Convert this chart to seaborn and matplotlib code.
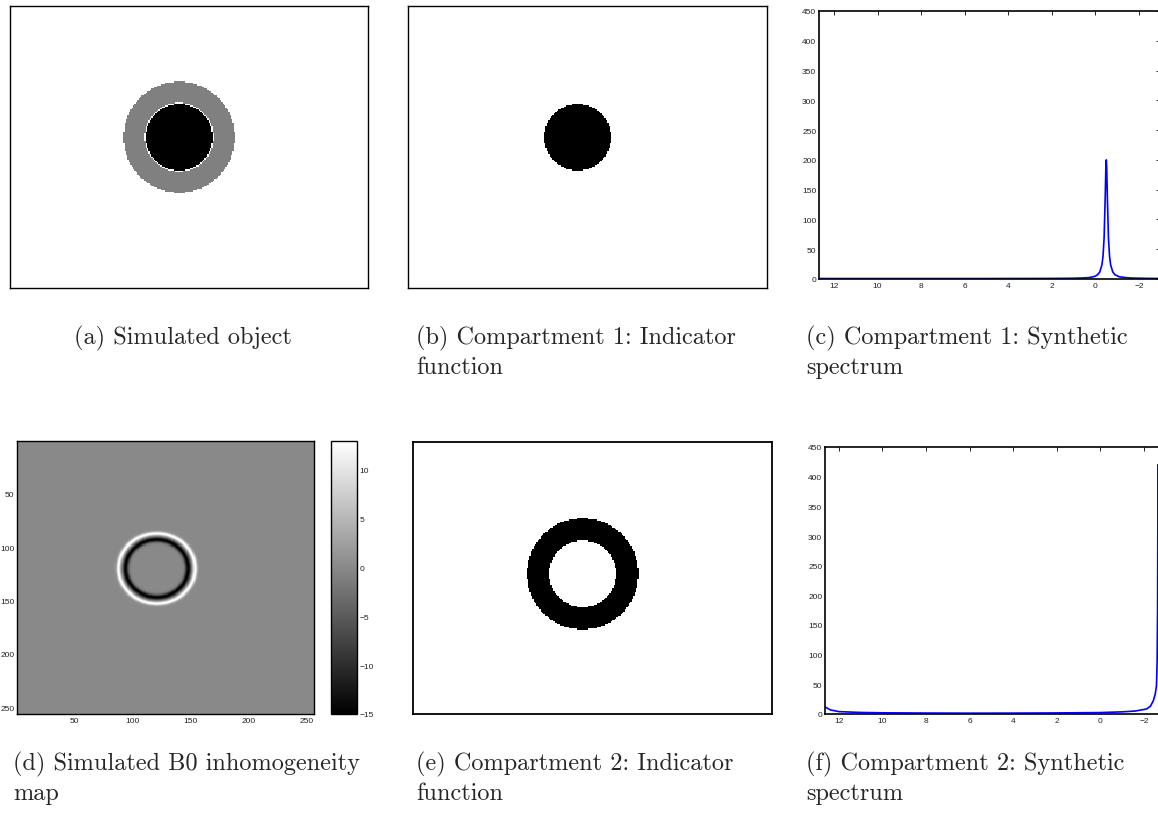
import numpy as np
import matplotlib
matplotlib.use("Agg")
import matplotlib.pyplot as plt
import seaborn as sns

# simulated phantom (grid units, 256 columns)
OBJ_CENTER = (121.0, 94.0)
OBJ_RADII = [23.8, 39.7]          # inner disk, outer ring
OBJ_LEVELS = [0.0, 0.5, 1.0]      # inner disk, ring, background

# B0 inhomogeneity map (256 x 256, 1-indexed pixel coords)
B0_CENTER = (121.0, 120.0)
B0_RING_RADII = [27.0, 33.0]
B0_RING_WIDTHS = [2.4, 1.9]
B0_RING_PEAKS = [-15.0, 12.9]
B0_CLIM = [-15.0, 12.9]
B0_TICKS = [50, 100, 150, 200, 250]
CB_TICKS = [-15, -10, -5, 0, 5, 10]

# synthetic spectra (ppm, amplitude)
C_PPM = [12.69, 11.0, 9.0, 7.0, 5.0, 3.0, 2.0, 1.5, 1.0, 0.6, 0.3, 0.1, 0.0, -0.1, -0.2,
         -0.3, -0.35, -0.4, -0.45, -0.48, -0.5, -0.52, -0.55, -0.6, -0.65, -0.7, -0.8,
         -0.9, -1.1, -1.4, -1.6, -2.0, -2.5, -2.94]
C_AMP = [0.8, 0.8, 0.8, 0.8, 0.8, 0.9, 1.0, 1.1, 1.3, 1.7, 2.4, 3.7, 4.9, 7.1, 11.7,
         23.8, 38.0, 69.0, 136.0, 186.0, 200.0, 186.0, 136.0, 69.0, 38.0, 23.8, 11.7,
         7.1, 3.7, 2.4, 1.7, 1.3, 1.0, 0.9]
F_PPM = [12.64, 12.4, 12.0, 11.0, 10.0, 8.0, 6.0, 4.0, 2.0, 0.0, -1.0, -1.6, -2.12,
         -2.3, -2.43, -2.52, -2.58, -2.61, -2.63, -2.65, -2.7, -2.8, -3.0]
F_AMP = [12.0, 7.0, 4.0, 2.6, 2.0, 1.6, 1.4, 1.5, 1.8, 2.4, 3.6, 5.0, 8.4,
         13.0, 22.0, 33.0, 48.0, 90.0, 180.0, 420.0, 120.0, 40.0, 15.0]
SPEC_TICKS = [12, 10, 8, 6, 4, 2, 0, -2]
SPEC_YTICKS = list(range(0, 451, 50))

CAPTIONS = [
    "(a) Simulated object",
    "(b) Compartment 1: Indicator\nfunction",
    "(c) Compartment 1: Synthetic\nspectrum",
    "(d) Simulated B0 inhomogeneity\nmap",
    "(e) Compartment 2: Indicator\nfunction",
    "(f) Compartment 2: Synthetic\nspectrum",
]

sns.set_style("white")
plt.rcParams['font.family'] = ['Liberation Sans', 'DejaVu Sans']

W, H = 1158, 820
fig = plt.figure(figsize=(W / 100, H / 100), dpi=100)


def box(l, t, r, b):
    return fig.add_axes([l / W, 1 - b / H, (r - l) / W, (b - t) / H])


def radius_grid(nx, ny, center):
    yy, xx = np.mgrid[0:ny, 0:nx] + 0.5
    return np.hypot(xx - center[0], yy - center[1])


def frame(ax, lw=1.0):
    for s in ax.spines.values():
        s.set_visible(True)
        s.set_color('black')
        s.set_linewidth(lw)


def matlab_ticks(ax):
    ax.tick_params(direction='in', length=3, width=0.6, top=True, right=True,
                   labelsize=6, pad=2, colors='black', labelcolor='#222222')


# (a) simulated object
ax_a = box(10, 7, 368, 289)
r = radius_grid(256, 202, OBJ_CENTER)
obj = np.full(r.shape, OBJ_LEVELS[2])
obj[r < OBJ_RADII[1]] = OBJ_LEVELS[1]
obj[r < OBJ_RADII[0] + 0.9] = 1.0
obj[r < OBJ_RADII[0]] = OBJ_LEVELS[0]
sns.heatmap(obj, ax=ax_a, cmap='gray', vmin=0, vmax=1, cbar=False,
            xticklabels=False, yticklabels=False)
frame(ax_a)

# (b) compartment 1 indicator
ax_b = box(408, 7, 767, 289)
r = radius_grid(256, 202, OBJ_CENTER)
ind1 = np.where(r < OBJ_RADII[0], 0.0, 1.0)
sns.heatmap(ind1, ax=ax_b, cmap='gray', vmin=0, vmax=1, cbar=False,
            xticklabels=False, yticklabels=False)
frame(ax_b)

# (e) compartment 2 indicator
ax_e = box(413, 443, 772, 715)
r = radius_grid(256, 194, OBJ_CENTER)
ind2 = np.where((r >= OBJ_RADII[0]) & (r < OBJ_RADII[1]), 0.0, 1.0)
sns.heatmap(ind2, ax=ax_e, cmap='gray', vmin=0, vmax=1, cbar=False,
            xticklabels=False, yticklabels=False)
frame(ax_e, 1.3)

# (d) B0 map with colorbar
ax_d = box(17, 442, 314, 715)
ax_cb = box(331, 442, 357, 715)
yy, xx = np.mgrid[1:257, 1:257]
rb = np.hypot(xx - B0_CENTER[0], yy - B0_CENTER[1])
b0 = np.zeros(rb.shape)
for rr, ww, pk in zip(B0_RING_RADII, B0_RING_WIDTHS, B0_RING_PEAKS):
    b0 += pk * np.exp(-((rb - rr) / ww) ** 2)
sns.heatmap(b0, ax=ax_d, cmap='gray', vmin=B0_CLIM[0], vmax=B0_CLIM[1],
            cbar_ax=ax_cb, xticklabels=False, yticklabels=False)
ax_d.set_xticks(np.array(B0_TICKS) - 0.5)
ax_d.set_xticklabels([str(t) for t in B0_TICKS])
ax_d.set_yticks(np.array(B0_TICKS) - 0.5)
ax_d.set_yticklabels([str(t) for t in B0_TICKS], rotation=0)
matlab_ticks(ax_d)
frame(ax_d)
cb = ax_d.collections[0].colorbar
cb.set_ticks(CB_TICKS)
cb.outline.set_linewidth(1.0)
cb.outline.set_edgecolor('black')
ax_cb.tick_params(direction='in', length=3, width=0.6, left=True, right=True,
                  labelsize=6, pad=2, labelcolor='#222222')

# (c) and (f) spectra
for (l, t, rgt, b), ppm, amp in [((819, 12, 1160, 280), C_PPM, C_AMP),
                                 ((825, 448, 1166, 715), F_PPM, F_AMP)]:
    ax = box(l, t, rgt, b)
    xl = ppm[0]
    xr = xl - (rgt - l) / 21.78
    sns.lineplot(x=ppm, y=amp, ax=ax, color='#0000ff', lw=1.2, sort=False,
                 estimator=None)
    ax.set_xlim(xl, xr)
    ax.set_ylim(0, 450)
    ax.set_xticks(SPEC_TICKS)
    ax.set_yticks(SPEC_YTICKS)
    matlab_ticks(ax)
    frame(ax, 1.2)

# captions, one text per line, placed on baselines
cap_pos = [(183, 344, 'center'), (416, 344, 'left'), (806, 344, 'left'),
           (13, 770, 'left'), (416, 770, 'left'), (806, 770, 'left')]
for (x, y, ha), txt in zip(cap_pos, CAPTIONS):
    for i, line in enumerate(txt.split("\n")):
        fig.text(x / W, 1 - (y + 30 * i) / H, line, family='cmr10', fontsize=17.5,
                 va='baseline', ha=ha)

fig.savefig("out.png", dpi=100)
